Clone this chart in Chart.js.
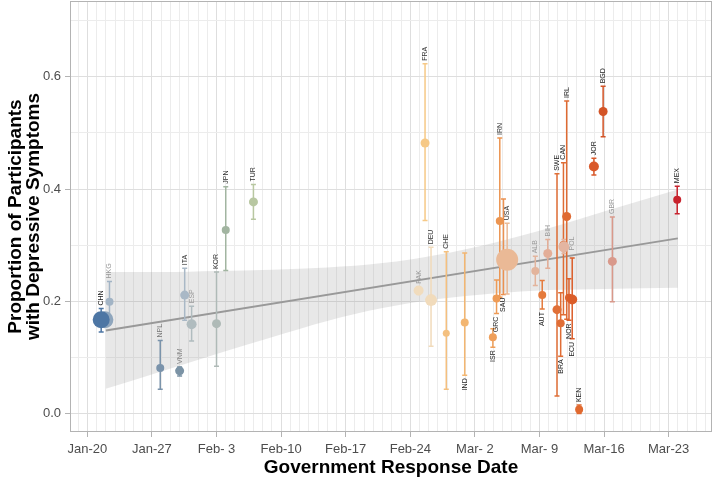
<!DOCTYPE html>
<html>
<head>
<meta charset="utf-8">
<script src="https://cdn.jsdelivr.net/npm/chart.js@4.4.1/dist/chart.umd.min.js"></script>
<style>
  html, body { margin: 0; padding: 0; background: #fff; }
  #wrap { width: 714px; height: 479px; }
</style>
</head>
<body>
<div id="wrap"><canvas id="chart"></canvas></div>
<script>
// Studies: country code, response date (days after Jan-20), proportion and its CI
const countries = ['', 'CHN', 'HKG', 'NPL', 'VNM', 'ITA', 'ESP', 'KOR', 'JPN', 'TUR',
  'PAK', 'FRA', 'DEU', 'CHE', 'IND', 'ISR', 'GRC', 'IRN', 'SAU', 'USA',
  'ALB', 'AUT', 'BIH', 'SWE', 'BRA', 'CAN', 'POL', 'IRL', 'NOR', 'ECU',
  'KEN', 'JOR', 'BGD', 'GBR', 'MEX'];
const responseDays = [1.9, 1.5, 2.4, 7.9, 10.0, 10.55, 11.3, 14.0, 15.0, 18.0,
  35.9, 36.6, 37.25, 38.9, 40.9, 43.95, 44.35, 44.7, 45.1, 45.5,
  48.55, 49.3, 49.9, 50.9, 51.3, 51.6, 51.65, 51.95, 52.2, 52.55,
  53.3, 54.9, 55.9, 56.9, 63.93];
const proportions = [0.167, 0.167, 0.199, 0.081, 0.076, 0.211, 0.159, 0.160, 0.327, 0.377,
  0.219, 0.482, 0.202, 0.143, 0.162, 0.136, 0.205, 0.343, 0.272, 0.274,
  0.254, 0.211, 0.285, 0.185, 0.161, 0.300, 0.297, 0.351, 0.206, 0.203,
  0.007, 0.440, 0.538, 0.271, 0.381];
const ciLow = [0.160, 0.145, 0.160, 0.043, 0.067, 0.166, 0.129, 0.084, 0.255, 0.346,
  0.212, 0.344, 0.120, 0.043, 0.068, 0.118, 0.178, 0.207, 0.212, 0.213,
  0.228, 0.186, 0.259, 0.031, 0.102, 0.176, 0.285, 0.168, 0.166, 0.133,
  0.000, 0.425, 0.493, 0.199, 0.356];
const ciHigh = [0.175, 0.187, 0.235, 0.130, 0.083, 0.259, 0.191, 0.252, 0.404, 0.408,
  0.226, 0.623, 0.296, 0.288, 0.286, 0.151, 0.238, 0.491, 0.382, 0.339,
  0.280, 0.237, 0.310, 0.427, 0.215, 0.447, 0.310, 0.557, 0.240, 0.277,
  0.015, 0.455, 0.583, 0.350, 0.405];

// Linear fit and its confidence band
const fitDays = [2, 64];
const fitValues = [0.148, 0.312];
const bandDays = [2, 8, 14, 20, 26, 32, 38, 44, 50, 56, 64];
const bandUpper = [0.252, 0.252, 0.254, 0.256, 0.260, 0.268, 0.283, 0.304, 0.330, 0.360, 0.399];
const bandLower = [0.044, 0.075, 0.106, 0.136, 0.165, 0.188, 0.204, 0.214, 0.220, 0.222, 0.224];

// Axis ticks
const xTickDays = [0, 7, 14, 21, 28, 35, 42, 49, 56, 63];
const xTickLabels = ['Jan-20', 'Jan-27', 'Feb- 3', 'Feb-10', 'Feb-17', 'Feb-24', 'Mar- 2', 'Mar- 9', 'Mar-16', 'Mar-23'];
const yTickValues = [0, 0.2, 0.4, 0.6];
const yTickLabels = ['0.0', '0.2', '0.4', '0.6'];

// Styles per study: colour, point radius, label colour / side / nudge
const styles = {
  '':  { c: '#8fa6bd', r: 8.5, lc: '#999', side: 'none' },
  CHN: { c: '#4d76a4', r: 8.5, lc: '#222' },
  HKG: { c: '#a2b4c5', r: 4, lc: '#999' },
  NPL: { c: '#7a93ab', r: 4, lc: '#777' },
  VNM: { c: '#7b93a5', r: 4.5, lc: '#888' },
  ITA: { c: '#a9b8c6', r: 4.5, lc: '#333' },
  ESP: { c: '#b0bcbf', r: 5, lc: '#999' },
  KOR: { c: '#afbab7', r: 4.5, lc: '#333' },
  JPN: { c: '#a2b5a1', r: 4, lc: '#333' },
  TUR: { c: '#b8c7a1', r: 4.5, lc: '#333' },
  PAK: { c: '#f1dcbd', r: 5, lc: '#999' },
  FRA: { c: '#f6c987', r: 4.5, lc: '#333' },
  DEU: { c: '#f1dbbb', r: 6, lc: '#333' },
  CHE: { c: '#f4c07f', r: 3.5, lc: '#333' },
  IND: { c: '#f3b671', r: 4, lc: '#222', side: 'down' },
  ISR: { c: '#ef9f5a', r: 4, lc: '#222', side: 'down' },
  GRC: { c: '#ee9b56', r: 4, lc: '#333', side: 'down' },
  IRN: { c: '#ec9551', r: 4, lc: '#333' },
  SAU: { c: '#eb9150', r: 4, lc: '#222', side: 'down' },
  USA: { c: '#eab996', r: 11, lc: '#333' },
  ALB: { c: '#e3b49c', r: 4, lc: '#999' },
  AUT: { c: '#e57b3d', r: 4, lc: '#222', side: 'down' },
  BIH: { c: '#e3ae98', r: 4.5, lc: '#999' },
  SWE: { c: '#e06f37', r: 4.5, lc: '#222' },
  BRA: { c: '#e06d35', r: 4, lc: '#222', side: 'down' },
  CAN: { c: '#df6c34', r: 4, lc: '#222' },
  POL: { c: '#e4b5a1', r: 5.5, lc: '#999', dx: 8, dy: 14 },
  IRL: { c: '#df6a32', r: 4.5, lc: '#222' },
  NOR: { c: '#dc602c', r: 4, lc: '#222', side: 'down' },
  ECU: { c: '#db5d29', r: 5, lc: '#222', side: 'down' },
  KEN: { c: '#e0692f', r: 4, lc: '#222' },
  JOR: { c: '#d9592b', r: 5, lc: '#222' },
  BGD: { c: '#d35427', r: 4.5, lc: '#222' },
  GBR: { c: '#d9998b', r: 4.5, lc: '#999' },
  MEX: { c: '#c8232d', r: 4, lc: '#222' }
};

const FONT = '"Liberation Sans", Arial, Helvetica, sans-serif';
Chart.defaults.font.family = FONT;

// every day gets a light grid line, weeks get the darker one
const xGridDays = [];
for (let d = -1; d <= 67; d++) xGridDays.push(d);
const yGridValues = [0, 0.1, 0.2, 0.3, 0.4, 0.5, 0.6, 0.7];

const isMajorY = v => yTickValues.some(t => Math.abs(t - v) < 1e-9);
const isMajorX = v => xTickDays.includes(v);

// error bars under the points, labels and panel border on top
const studyPlugin = {
  id: 'studyPlugin',
  beforeDatasetDraw(chart, args) {
    if (args.meta.label !== 'studies') return;
    const { ctx, scales: { x, y } } = chart;
    ctx.save();
    ctx.lineWidth = 1.5;
    countries.forEach((code, i) => {
      const px = x.getPixelForValue(responseDays[i]);
      const top = y.getPixelForValue(ciHigh[i]);
      const bot = y.getPixelForValue(ciLow[i]);
      ctx.strokeStyle = styles[code].c;
      ctx.beginPath();
      ctx.moveTo(px, top);
      ctx.lineTo(px, bot);
      ctx.moveTo(px - 2.5, top);
      ctx.lineTo(px + 2.5, top);
      ctx.moveTo(px - 2.5, bot);
      ctx.lineTo(px + 2.5, bot);
      ctx.stroke();
    });
    ctx.restore();
  },
  afterDatasetsDraw(chart) {
    const { ctx, chartArea: area, scales: { x, y } } = chart;
    ctx.save();
    ctx.font = '7px ' + FONT;
    ctx.textBaseline = 'middle';
    countries.forEach((code, i) => {
      const st = styles[code];
      if (!code || st.side === 'none') return;
      const px = x.getPixelForValue(responseDays[i]) + (st.dx || 0);
      ctx.fillStyle = st.lc;
      ctx.save();
      if (st.side === 'down') {
        ctx.translate(px, y.getPixelForValue(ciLow[i]) + 3 + (st.dy || 0));
        ctx.rotate(-Math.PI / 2);
        ctx.textAlign = 'right';
      } else {
        ctx.translate(px, y.getPixelForValue(ciHigh[i]) - 3 + (st.dy || 0));
        ctx.rotate(-Math.PI / 2);
        ctx.textAlign = 'left';
      }
      ctx.fillText(code, 0, 0);
      ctx.restore();
    });
    // panel border
    ctx.strokeStyle = '#b3b3b3';
    ctx.lineWidth = 1;
    ctx.strokeRect(area.left + 0.5, area.top + 0.5, area.width - 1, area.height - 1);
    ctx.restore();
  }
};

const canvas = document.getElementById('chart');
new Chart(canvas.getContext('2d'), {
  type: 'scatter',
  data: {
    datasets: [
      {
        type: 'line', label: 'upper',
        data: bandDays.map((d, i) => ({ x: d, y: bandUpper[i] })),
        borderWidth: 0, borderColor: 'transparent', pointRadius: 0,
        cubicInterpolationMode: 'monotone', fill: false, order: 4
      },
      {
        type: 'line', label: 'lower',
        data: bandDays.map((d, i) => ({ x: d, y: bandLower[i] })),
        borderWidth: 0, borderColor: 'transparent', pointRadius: 0,
        cubicInterpolationMode: 'monotone',
        fill: '-1', backgroundColor: 'rgba(150,150,150,0.22)', order: 3
      },
      {
        type: 'line', label: 'fit',
        data: fitDays.map((d, i) => ({ x: d, y: fitValues[i] })),
        borderColor: '#999999', borderWidth: 2, pointRadius: 0, fill: false, order: 2
      },
      {
        label: 'studies',
        data: countries.map((c, i) => ({ x: responseDays[i], y: proportions[i] })),
        pointRadius: countries.map(c => styles[c].r),
        backgroundColor: countries.map(c => styles[c].c),
        borderWidth: 0, order: 1
      }
    ]
  },
  options: {
    responsive: true,
    maintainAspectRatio: false,
    animation: false,
    events: [],
    layout: { autoPadding: false, padding: { top: 1, right: 2, left: 0, bottom: 0 } },
    plugins: { legend: { display: false }, tooltip: { enabled: false } },
    scales: {
      x: {
        type: 'linear', min: -1.88, max: 67.7,
        afterBuildTicks: axis => { axis.ticks = xGridDays.map(v => ({ value: v })); },
        afterFit: axis => {
          axis.height = 47;
          axis.paddingLeft = 0; axis.paddingRight = 0;
        },
        border: { display: false },
        grid: {
          color: c => isMajorX(c.tick.value) ? '#dedede' : '#ececec',
          tickColor: c => isMajorX(c.tick.value) ? '#b3b3b3' : 'rgba(0,0,0,0)',
          tickLength: 5
        },
        ticks: {
          autoSkip: false, maxRotation: 0, padding: 5,
          color: '#4d4d4d', font: { size: 13 },
          callback: v => { const i = xTickDays.indexOf(v); return i >= 0 ? xTickLabels[i] : ''; }
        },
        title: {
          display: true, text: 'Government Response Date',
          color: '#000', font: { size: 19, weight: 'bold' },
          padding: { top: 0, bottom: 0 }
        }
      },
      y: {
        type: 'linear', min: -0.033, max: 0.735,
        afterBuildTicks: axis => { axis.ticks = yGridValues.map(v => ({ value: v })); },
        afterFit: axis => {
          axis.width = 70;
          axis.paddingTop = 0; axis.paddingBottom = 0;
        },
        border: { display: false },
        grid: {
          color: c => isMajorY(c.tick.value) ? '#dedede' : '#ececec',
          tickColor: c => isMajorY(c.tick.value) ? '#b3b3b3' : 'rgba(0,0,0,0)',
          tickLength: 5
        },
        ticks: {
          padding: 4, color: '#4d4d4d', font: { size: 13 },
          callback: v => { const i = yTickValues.findIndex(t => Math.abs(t - v) < 1e-9); return i >= 0 ? yTickLabels[i] : ''; }
        },
        title: {
          display: true, text: ['Proportion of Participants', 'with Depressive Symptoms'],
          color: '#000', font: { size: 19, weight: 'bold', lineHeight: 0.95 },
          padding: { top: 7, bottom: 0 }
        }
      }
    }
  },
  plugins: [studyPlugin]
});
</script>
</body>
</html>
